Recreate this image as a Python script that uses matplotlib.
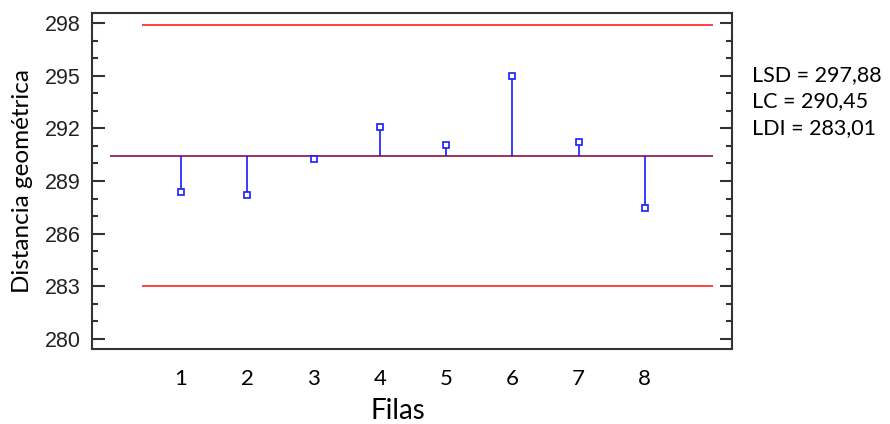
import numpy as np
import matplotlib.pyplot as plt
from matplotlib.ticker import MultipleLocator

# control chart data
filas = [1, 2, 3, 4, 5, 6, 7, 8]
distancia = [288.35, 288.22, 290.28, 292.07, 291.05, 295.01, 291.2, 287.46]
lsd = 297.88
lc = 290.45
ldi = 283.01

fig = plt.figure(figsize=(8.9, 4.24), dpi=100)
ax = fig.add_axes([0.103, 0.176, 0.719, 0.793])

x_lo, x_hi = 0.41, 9.03
ax.hlines([lsd, ldi], x_lo, x_hi, colors='#ff2020', lw=1.2, zorder=2)
ax.hlines(lc, -0.075, x_hi, colors='#993366', lw=1.4, zorder=2)

# stems from the centre line to each row mean
ax.vlines(filas, lc, distancia, colors='#1a1aff', lw=1.2, zorder=3)
ax.plot(filas, distancia, ls='none', marker='s', ms=4, mfc='white',
        mec='#1a1aff', mew=1.2, zorder=4)

ax.set_xlim(-0.35, 9.31)
ax.set_ylim(279.4, 298.57)
ax.set_xticks(filas)
ax.set_yticks(np.arange(280, 299, 3))
ax.yaxis.set_minor_locator(MultipleLocator(1))

ax.tick_params(axis='y', which='both', direction='in', right=True,
               left=True, color='#333333', width=1.5)
ax.tick_params(axis='y', which='major', length=9, labelsize=15.5,
               labelcolor='#222222', pad=8)
ax.tick_params(axis='y', which='minor', length=4.5)
ax.tick_params(axis='x', length=0, pad=14, labelsize=16)
for lab in ax.get_yticklabels():
    lab.set_family('Liberation Sans')
for lab in ax.get_xticklabels():
    lab.set_family('Lato')

for side in ['left', 'right', 'top', 'bottom']:
    ax.spines[side].set_color('#333333')
    ax.spines[side].set_linewidth(1.5)

ax.set_xlabel('Filas', family='Lato', fontsize=20)
ax.xaxis.set_label_coords(0.479, -0.145)
ax.set_ylabel('Distancia geométrica', family='Lato', fontsize=17.5, labelpad=8)

lines = ['LSD = 297,88', 'LC = 290,45', 'LDI = 283,01']
for i, t in enumerate(lines):
    fig.text(0.845, 1 - (75 + 26.5 * i) / 424, t, family='Lato', fontsize=15.5,
             va='center', ha='left')

fig.savefig('out.png')
